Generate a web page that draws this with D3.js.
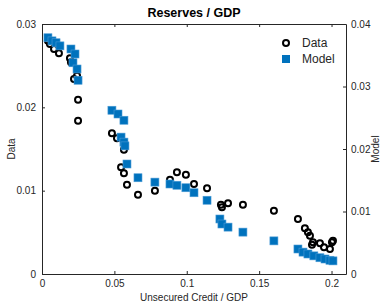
<!DOCTYPE html>
<html><head><meta charset="utf-8">
<script src="https://cdn.jsdelivr.net/npm/d3@7"></script>
<style>
body{margin:0;background:#fff;}
text{font-family:"Liberation Sans",Arial,Helvetica,sans-serif;}
</style></head>
<body><svg id="c" width="382" height="304"></svg>
<script>
const dataX = [0.0041,0.0055,0.0083,0.0117,0.0193,0.0200,0.0221,0.0242,0.0249,0.0249,
  0.0483,0.0518,0.0566,0.0566,0.0546,0.0566,0.0587,0.0663,0.0780,0.0884,
  0.0932,0.0994,0.1050,0.1140,0.1236,0.1243,0.1285,0.1388,0.1602,0.1768,
  0.1816,0.1837,0.1851,0.1872,0.1865,0.1920,0.1948,0.1989,0.2003,0.2010];
const dataY = [0.0280,0.0276,0.0270,0.0265,0.0259,0.0254,0.0234,0.0238,0.0209,0.0184,
  0.0169,0.0163,0.0158,0.0149,0.0128,0.0121,0.0107,0.0095,0.0100,0.0113,
  0.0122,0.0119,0.0108,0.0103,0.0083,0.0080,0.0085,0.0083,0.0076,0.0066,
  0.0055,0.0050,0.0046,0.0038,0.0035,0.0037,0.0032,0.0030,0.0038,0.0040];
const modelX = [0.0041,0.0069,0.0097,0.0124,0.0200,0.0228,0.0214,0.0242,0.0249,
  0.0483,0.0525,0.0566,0.0546,0.0566,0.0573,0.0587,0.0663,0.0780,0.0884,
  0.0932,0.0994,0.1050,0.1140,0.1229,0.1243,0.1285,0.1388,0.1602,0.1768,
  0.1803,0.1837,0.1878,0.1920,0.1955,0.1989,0.2010];
const modelY = [0.0378,0.0373,0.0370,0.0365,0.0360,0.0352,0.0338,0.0328,0.0310,
  0.0262,0.0256,0.0246,0.0219,0.0211,0.0205,0.0176,0.0154,0.0147,0.0144,
  0.0142,0.0138,0.0130,0.0118,0.0088,0.0080,0.0075,0.0067,0.0053,0.0040,
  0.0035,0.0032,0.0029,0.0026,0.0024,0.0022,0.0021];
const xTicks = [0,0.05,0.1,0.15,0.2];
const xTickLabels = ["0","0.05","0.1","0.15","0.2"];
const yLeftTicks = [0,0.01,0.02,0.03];
const yLeftTickLabels = ["0","0.01","0.02","0.03"];
const yRightTicks = [0,0.01,0.02,0.03,0.04];
const yRightTickLabels = ["0","0.01","0.02","0.03","0.04"];
const title = "Reserves / GDP";
const xLabel = "Unsecured Credit / GDP";
const leftLabel = "Data";
const rightLabel = "Model";

const L=42, R=346, T=24, B=274;
const svg = d3.select("#c");
const x = d3.scaleLinear().domain([0,0.21]).range([L,R]);
const yL = d3.scaleLinear().domain([0,0.03]).range([B,T]);
const yR = d3.scaleLinear().domain([0,0.04]).range([B,T]);
const axCol = "#262626";

function style(g){
  g.select(".domain").attr("stroke",axCol).attr("stroke-width",1);
  g.selectAll(".tick line").attr("stroke",axCol);
  g.selectAll(".tick text").attr("fill",axCol).attr("font-size","10px")
    .attr("font-family",'"Liberation Sans",Arial,Helvetica,sans-serif');
}
// bottom
svg.append("g").attr("transform",`translate(0,${B})`)
  .call(d3.axisBottom(x).tickValues(xTicks).tickFormat((d,i)=>xTickLabels[i]).tickSizeInner(-3).tickSizeOuter(0).tickPadding(6))
  .call(style);
// top
svg.append("g").attr("transform",`translate(0,${T})`)
  .call(d3.axisTop(x).tickValues(xTicks).tickFormat("").tickSizeInner(-3).tickSizeOuter(0))
  .call(style);
// left
svg.append("g").attr("transform",`translate(${L},0)`)
  .call(d3.axisLeft(yL).tickValues(yLeftTicks).tickFormat((d,i)=>yLeftTickLabels[i]).tickSizeInner(-3).tickSizeOuter(0).tickPadding(6))
  .call(style);
// right
svg.append("g").attr("transform",`translate(${R},0)`)
  .call(d3.axisRight(yR).tickValues(yRightTicks).tickFormat((d,i)=>yRightTickLabels[i]).tickSizeInner(-3).tickSizeOuter(0).tickPadding(5))
  .call(style);

// data circles
svg.append("g").selectAll("circle").data(dataX).join("circle")
  .attr("cx",(d)=>x(d)).attr("cy",(d,i)=>yL(dataY[i])).attr("r",3)
  .attr("fill","none").attr("stroke","#000").attr("stroke-width",2);
// model squares
const s=8;
svg.append("g").selectAll("rect").data(modelX).join("rect")
  .attr("x",(d)=>x(d)-s/2).attr("y",(d,i)=>yR(modelY[i])-s/2).attr("width",s).attr("height",s)
  .attr("fill","#0072BD").attr("stroke","#4a9bd6").attr("stroke-width",0.6);

// legend
svg.append("circle").attr("cx",286).attr("cy",43).attr("r",3).attr("fill","none").attr("stroke","#000").attr("stroke-width",2);
svg.append("text").attr("x",302).attr("y",47).attr("font-size","12px").attr("fill",axCol).text(leftLabel);
svg.append("rect").attr("x",282).attr("y",55).attr("width",8).attr("height",8).attr("fill","#0072BD");
svg.append("text").attr("x",302).attr("y",63).attr("font-size","12px").attr("fill",axCol).text(rightLabel);

// title & labels
svg.append("text").attr("x",194).attr("y",17).attr("text-anchor","middle").attr("font-size","12.5px").attr("font-weight","bold").attr("fill","#000").text(title);
svg.append("text").attr("x",194).attr("y",301).attr("text-anchor","middle").attr("font-size","10px").attr("fill",axCol).text(xLabel);
svg.append("text").attr("transform",`translate(15,149) rotate(-90)`).attr("text-anchor","middle").attr("font-size","10px").attr("fill",axCol).text(leftLabel);
svg.append("text").attr("transform",`translate(379,149) rotate(-90)`).attr("text-anchor","middle").attr("font-size","10px").attr("fill",axCol).text(rightLabel);
</script></body></html>
